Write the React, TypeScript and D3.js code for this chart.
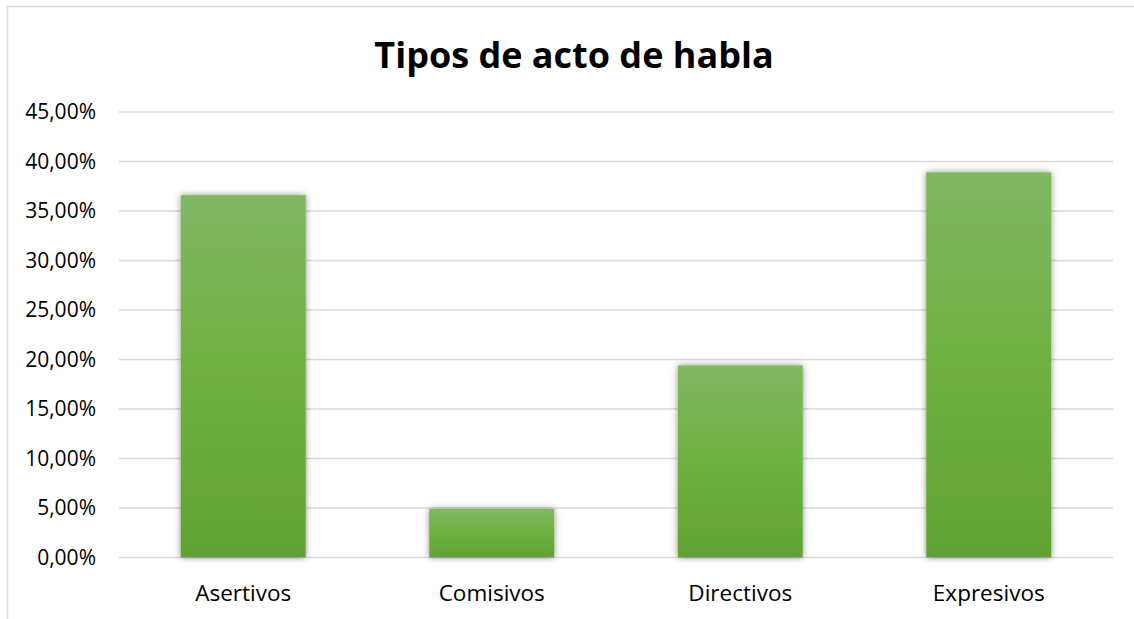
import React, { useEffect, useRef } from "react";
import * as d3 from "d3";

const categories = ["Asertivos", "Comisivos", "Directivos", "Expresivos"];
const values = [0.366, 0.049, 0.194, 0.389];
const yTicks = [0, 0.05, 0.1, 0.15, 0.2, 0.25, 0.3, 0.35, 0.4, 0.45];
const title = "Tipos de acto de habla";

const W = 1134;
const H = 619;

export default function App() {
  const ref = useRef<SVGSVGElement>(null);

  useEffect(() => {
    const svg = d3.select(ref.current);
    svg.selectAll("*").remove();

    const margin = { top: 112, right: 21, bottom: 61.5, left: 119 };
    const w = W - margin.left - margin.right;
    const h = H - margin.top - margin.bottom;

    const es = d3.formatLocale({
      decimal: ",",
      thousands: ".",
      grouping: [3],
      currency: ["", " €"],
    });
    const fmt = es.format(".2%");

    const defs = svg.append("defs");
    const grad = defs
      .append("linearGradient")
      .attr("id", "barGrad")
      .attr("x1", 0)
      .attr("y1", 0)
      .attr("x2", 0)
      .attr("y2", 1);
    grad.append("stop").attr("offset", "0%").attr("stop-color", "#81b763");
    grad.append("stop").attr("offset", "50%").attr("stop-color", "#6fb040");
    grad.append("stop").attr("offset", "100%").attr("stop-color", "#62a234");

    const shadow = defs
      .append("filter")
      .attr("id", "shadow")
      .attr("x", "-20%")
      .attr("y", "-20%")
      .attr("width", "140%")
      .attr("height", "140%");
    shadow
      .append("feDropShadow")
      .attr("dx", 0)
      .attr("dy", 0)
      .attr("stdDeviation", 3)
      .attr("flood-color", "#000")
      .attr("flood-opacity", 0.45);

    // chart frame (cropped on the right and bottom)
    svg
      .append("rect")
      .attr("x", 7.5)
      .attr("y", 6.5)
      .attr("width", W + 20)
      .attr("height", H + 20)
      .attr("fill", "#fff")
      .attr("stroke", "#d9d9d9")
      .attr("stroke-width", 1.5);

    svg
      .append("text")
      .attr("x", 574)
      .attr("y", 68)
      .attr("text-anchor", "middle")
      .style("font-family", "'Open Sans', sans-serif")
      .style("font-weight", "bold")
      .style("font-size", "36px")
      .style("fill", "#000")
      .text(title);

    const g = svg
      .append("g")
      .attr("transform", `translate(${margin.left},${margin.top})`);

    const x = d3.scaleBand().domain(categories).range([0, w]).paddingInner(0.497).paddingOuter(0.2485);
    const y = d3.scaleLinear().domain([0, 0.45]).range([h, 0]);

    // gridlines
    g.selectAll(".grid")
      .data(yTicks)
      .join("line")
      .attr("class", "grid")
      .attr("x1", 0)
      .attr("x2", w)
      .attr("y1", (d) => y(d))
      .attr("y2", (d) => y(d))
      .attr("stroke", "#d9d9d9")
      .attr("stroke-width", 1.5);

    // y-axis labels
    g.selectAll(".ylab")
      .data(yTicks)
      .join("text")
      .attr("class", "ylab")
      .attr("x", -23)
      .attr("y", (d) => y(d))
      .attr("dy", "0.35em")
      .attr("text-anchor", "end")
      .style("font-family", "'Open Sans', sans-serif")
      .style("font-size", "21px")
      .style("fill", "#000")
      .text((d) => fmt(d));

    // bars
    g.selectAll(".bar")
      .data(values)
      .join("rect")
      .attr("class", "bar")
      .attr("x", (d, i) => x(categories[i]) as number)
      .attr("y", (d) => y(d))
      .attr("width", x.bandwidth())
      .attr("height", (d) => h - y(d))
      .attr("fill", "url(#barGrad)")
      .attr("filter", "url(#shadow)");

    // x-axis labels
    g.selectAll(".xlab")
      .data(categories)
      .join("text")
      .attr("class", "xlab")
      .attr("x", (d) => (x(d) as number) + x.bandwidth() / 2)
      .attr("y", h + 43)
      .attr("text-anchor", "middle")
      .style("font-family", "'Open Sans', sans-serif")
      .style("font-size", "22.5px")
      .style("fill", "#000")
      .text((d) => d);
  }, []);

  return (
    <svg
      ref={ref}
      width={W}
      height={H}
      style={{ position: "absolute", left: 0, top: 0, background: "#fff" }}
    />
  );
}
